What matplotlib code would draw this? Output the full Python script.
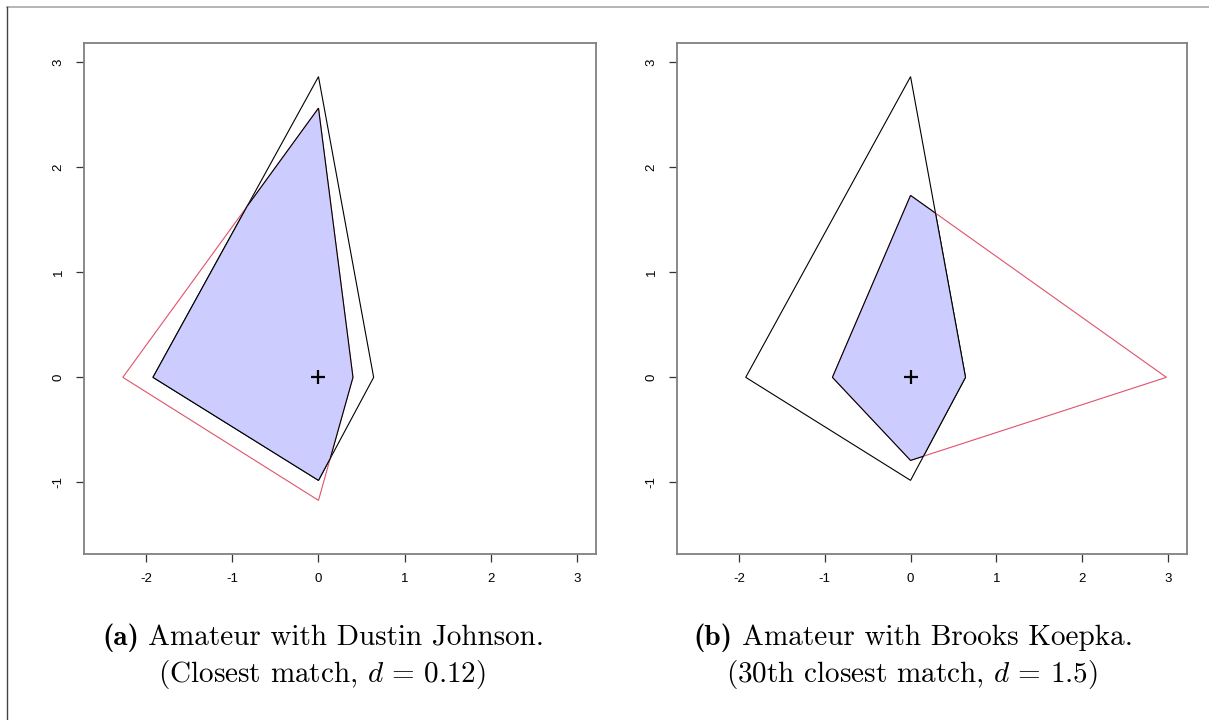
import numpy as np
import matplotlib.pyplot as plt
from matplotlib.lines import Line2D

plt.rcParams['mathtext.fontset'] = 'cm'
plt.rcParams['font.family'] = ['Liberation Sans', 'DejaVu Sans']

# shot-profile polygons (top, right, bottom, left vertices)
amateur_x = [0.0, 0.64, 0.0, -1.92]
amateur_y = [2.86, 0.0, -0.98, 0.0]

dj_x = [0.0, 0.40, 0.0, -2.27]
dj_y = [2.56, 0.0, -1.17, 0.0]

bk_x = [0.0, 2.98, 0.0, -0.91]
bk_y = [1.73, 0.0, -0.79, 0.0]

xticks = [-2, -1, 0, 1, 2, 3]
yticks = [-1, 0, 1, 2, 3]

cap_tags = ["(a)", "(b)"]
cap_first = ["Amateur with Dustin Johnson.", "Amateur with Brooks Koepka."]
cap_second = [r"(Closest match, $d\,=\,0.12$)", r"(30th closest match, $d\,=\,1.5$)"]


def clip_polygon(subject, clipper):
    # Sutherland-Hodgman, clipper must be convex
    cx = np.array(clipper)
    area = 0.5 * np.sum(cx[:, 0] * np.roll(cx[:, 1], -1) - np.roll(cx[:, 0], -1) * cx[:, 1])
    sgn = 1 if area > 0 else -1

    def inside(p, a, b):
        return sgn * ((b[0] - a[0]) * (p[1] - a[1]) - (b[1] - a[1]) * (p[0] - a[0])) >= 0

    def cross_pt(p, q, a, b):
        x1, y1 = p; x2, y2 = q; x3, y3 = a; x4, y4 = b
        den = (x1 - x2) * (y3 - y4) - (y1 - y2) * (x3 - x4)
        t = ((x1 - x3) * (y3 - y4) - (y1 - y3) * (x3 - x4)) / den
        return (x1 + t * (x2 - x1), y1 + t * (y2 - y1))

    out = list(subject)
    n = len(clipper)
    for i in range(n):
        a, b = clipper[i], clipper[(i + 1) % n]
        inp = out
        out = []
        for j in range(len(inp)):
            p, q = inp[j - 1], inp[j]
            if inside(q, a, b):
                if not inside(p, a, b):
                    out.append(cross_pt(p, q, a, b))
                out.append(q)
            elif inside(p, a, b):
                out.append(cross_pt(p, q, a, b))
    return out


W, H = 1209, 720
fig = plt.figure(figsize=(W / 100, H / 100), dpi=100)
axes = [fig.add_axes([0.0695, 0.2306, 0.4235, 0.7097]),
        fig.add_axes([0.560, 0.2306, 0.4218, 0.7097])]

amateur = list(zip(amateur_x, amateur_y))
pros = [list(zip(dj_x, dj_y)), list(zip(bk_x, bk_y))]

for ax, pro in zip(axes, pros):
    ax.fill(amateur_x + amateur_x[:1], amateur_y + amateur_y[:1], fill=False,
            edgecolor='black', lw=0.8)
    px = [p[0] for p in pro]
    py = [p[1] for p in pro]
    ax.fill(px, py, fill=False, edgecolor='#DF536B', lw=0.8)
    overlap = clip_polygon(pro, amateur)
    ax.fill([p[0] for p in overlap], [p[1] for p in overlap],
            facecolor='#CCCCFF', edgecolor='black', lw=0.8)
    ax.plot(0, 0, marker='+', ms=10, mew=1.6, color='black')

    ax.set_xlim(-2.72, 3.22)
    ax.set_ylim(-1.68, 3.18)
    ax.set_xticks(xticks)
    ax.set_yticks(yticks)
    ax.set_xticklabels([str(t) for t in xticks])
    ax.set_yticklabels([str(t) for t in yticks], rotation=90, va='center')
    ax.tick_params(length=6, width=0.9, color='#333333', labelsize=9.5, pad=8)
    for s in ax.spines.values():
        s.set_color('#808080')
        s.set_linewidth(1.3)

# captions under each panel: bold tag, then the rest on the same baseline
cap_fs = 21
line1_left = [102, 693]
line2_center = [322, 912]
renderer = fig.canvas.get_renderer()
for i in range(2):
    y1 = 1 - 645 / H
    tag = fig.text(line1_left[i] / W, y1, cap_tags[i], ha='left', va='baseline',
                   fontsize=cap_fs, family='cmb10')
    bb = tag.get_window_extent(renderer=renderer)
    fig.text((bb.x1 + 0.33 * cap_fs * 100 / 72) / W, y1, cap_first[i], ha='left',
             va='baseline', fontsize=cap_fs, family='cmr10')
    fig.text(line2_center[i] / W, 1 - 682 / H, cap_second[i], ha='center', va='baseline',
             fontsize=cap_fs, family='cmr10')

# page frame
fig.add_artist(Line2D([7 / W, 1], [1 - 7 / H, 1 - 7 / H], color='#a8a8a8', lw=1.2))
fig.add_artist(Line2D([7 / W, 7 / W], [0, 1 - 7 / H], color='#444444', lw=1.0))

fig.savefig('out.png', dpi=100)
